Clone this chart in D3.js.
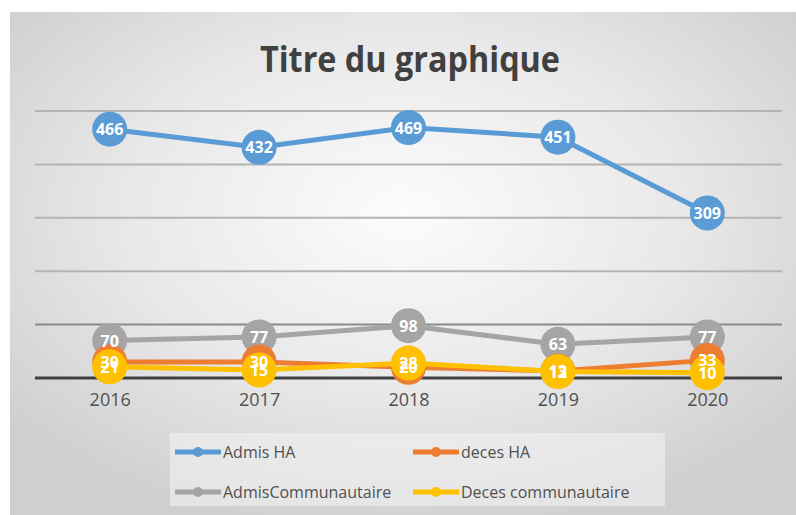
<!DOCTYPE html>
<html>
<head>
<meta charset="utf-8">
<script src="https://cdn.jsdelivr.net/npm/d3@7"></script>
<style>
  body { margin: 0; background: #fff; }
  svg { display: block; font-family: "Open Sans", "Liberation Sans", sans-serif; }
</style>
</head>
<body>
<div id="chart"></div>
<script>
var years = ["2016", "2017", "2018", "2019", "2020"];
var admisHA = [466, 432, 469, 451, 309];
var decesHA = [30, 30, 20, 13, 33];
var admisCommu = [70, 77, 98, 63, 77];
var decesCommu = [21, 15, 28, 12, 10];
var yTicks = [0, 100, 200, 300, 400, 500];

var series = [
  { name: "Admis HA", values: admisHA, color: "#5b9bd5" },
  { name: "deces HA", values: decesHA, color: "#ed7d31" },
  { name: "AdmisCommunautaire", values: admisCommu, color: "#a5a5a5" },
  { name: "Deces communautaire", values: decesCommu, color: "#ffc000" }
];

var width = 796,
    height = 515;

var svg = d3.select("#chart")
    .append("svg")
    .attr("width", width)
    .attr("height", height);

/* background gradient */
var defs = svg.append("defs");
var grad = defs.append("radialGradient")
    .attr("id", "bg")
    .attr("cx", "50%").attr("cy", "40%").attr("r", "65%");
grad.append("stop").attr("offset", "0%").attr("stop-color", "#fcfcfc");
grad.append("stop").attr("offset", "55%").attr("stop-color", "#e8e8e8");
grad.append("stop").attr("offset", "100%").attr("stop-color", "#cfcfcf");

svg.append("rect")
    .attr("x", 10).attr("y", 12)
    .attr("width", width - 10).attr("height", height - 12)
    .attr("fill", "url(#bg)");

/* title */
svg.append("text")
    .attr("x", 410).attr("y", 72)
    .attr("text-anchor", "middle")
    .attr("font-size", 35)
    .attr("font-weight", "bold")
    .attr("fill", "#404040")
    .attr("textLength", 300)
    .attr("lengthAdjust", "spacingAndGlyphs")
    .text("Titre du graphique");

/* scales */
var x = d3.scalePoint()
    .domain(years)
    .range([35, 782])
    .padding(0.5);

var y = d3.scaleLinear()
    .domain([0, 500])
    .range([378, 111]);

/* grid */
svg.append("g")
    .selectAll("line")
    .data(yTicks.slice(1))
    .enter().append("line")
    .attr("x1", 35).attr("x2", 782)
    .attr("y1", function(d) { return y(d); })
    .attr("y2", function(d) { return y(d); })
    .attr("stroke", function(d) { return d === 100 ? "#8a8a8a" : "#b4b4b4"; })
    .attr("stroke-width", 2);

/* x axis */
var xAxis = svg.append("g")
    .attr("transform", "translate(0," + y(0) + ")")
    .call(d3.axisBottom(x).tickSize(0).tickPadding(15));
xAxis.select(".domain")
    .attr("d", "M35,0H782")
    .attr("stroke", "#404040")
    .attr("stroke-width", 3);
xAxis.selectAll("text")
    .attr("font-size", 18)
    .attr("fill", "#505050")
    .attr("font-family", "Open Sans, sans-serif");

/* lines + markers, draw back to front */
var line = d3.line()
    .x(function(d, i) { return x(years[i]); })
    .y(function(d) { return y(d); });

var order = [0, 2, 1, 3];
order.forEach(function(k) {
  var s = series[k];
  var g = svg.append("g");
  g.append("path")
      .datum(s.values)
      .attr("fill", "none")
      .attr("stroke", s.color)
      .attr("stroke-width", 5)
      .attr("d", line);
  g.selectAll("circle")
      .data(s.values)
      .enter().append("circle")
      .attr("cx", function(d, i) { return x(years[i]); })
      .attr("cy", function(d) { return y(d); })
      .attr("r", 17.5)
      .attr("fill", s.color);
});

/* data labels on top of every series */
series.forEach(function(s) {
  svg.append("g")
      .selectAll("text")
      .data(s.values)
      .enter().append("text")
      .attr("x", function(d, i) { return x(years[i]); })
      .attr("y", function(d) { return y(d) + 6; })
      .attr("text-anchor", "middle")
      .attr("font-size", 16)
      .attr("font-weight", "bold")
      .attr("fill", "#fff")
      .text(function(d) { return d; });
});

/* legend */
var legend = svg.append("g");
legend.append("rect")
    .attr("x", 170).attr("y", 433)
    .attr("width", 495).attr("height", 73)
    .attr("fill", "#f2f2f2")
    .attr("opacity", 0.6);

var legendPos = [[175, 452], [413, 452], [175, 492], [413, 492]];
series.forEach(function(s, i) {
  var p = legendPos[i];
  var item = legend.append("g").attr("transform", "translate(" + p[0] + "," + p[1] + ")");
  item.append("line")
      .attr("x1", 0).attr("x2", 46)
      .attr("y1", 0).attr("y2", 0)
      .attr("stroke", s.color)
      .attr("stroke-width", 5);
  item.append("circle")
      .attr("cx", 23).attr("cy", 0).attr("r", 5)
      .attr("fill", s.color);
  item.append("text")
      .attr("x", 48).attr("y", 6)
      .attr("font-size", 16)
      .attr("fill", "#505050")
      .text(s.name);
});
</script>
</body>
</html>
